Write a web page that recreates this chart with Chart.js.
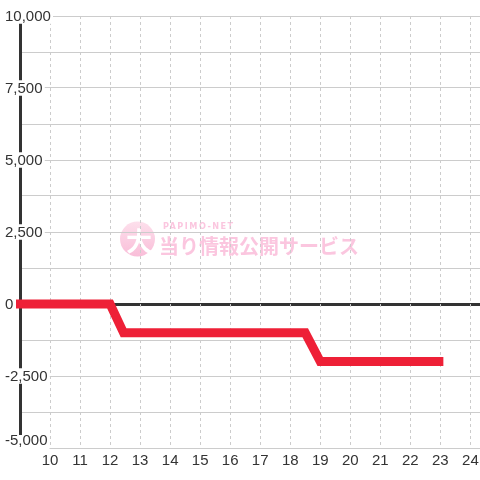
<!DOCTYPE html>
<html>
<head>
<meta charset="utf-8">
<script src="https://cdn.jsdelivr.net/npm/chart.js@4/dist/chart.umd.min.js"></script>
<style>
  html, body { margin: 0; padding: 0; background: #ffffff; }
  #wrap { width: 480px; height: 480px; }
</style>
</head>
<body>
<div id="wrap"><canvas id="c" width="480" height="480"></canvas></div>
<script>
// ---- data ----
const xValues = [8, 12, 12.45, 18.5, 19, 22.95];
const yValues = [0, 0, -1000, -1000, -2000, -2000];
const xTicks = [10, 11, 12, 13, 14, 15, 16, 17, 18, 19, 20, 21, 22, 23, 24];
const yTicks = [-5000, -3750, -2500, -1250, 0, 1250, 2500, 3750, 5000, 6250, 7500, 8750, 10000];
const yLabelStep = 2500;
const xMin = 9, xMax = 24.32;
const yMin = -5000, yMax = 10000;
const watermarkSmall = 'PAPIMO-NET';
const watermarkMain = '当り情報公開サービス';
const watermarkIcon = '大';

const FONT = "'Liberation Sans', Arial, sans-serif";
const fmt = v => v.toLocaleString('en-US');

const watermark = {
  id: 'watermark',
  beforeDraw(chart) {
    const ctx = chart.ctx;
    ctx.save();
    ctx.fillStyle = '#ffffff';
    ctx.fillRect(0, 0, chart.width, chart.height);
    const g = ctx.createLinearGradient(0, 221, 0, 257);
    g.addColorStop(0, '#fde0ec');
    g.addColorStop(1, '#f9bdd8');
    ctx.fillStyle = g;
    ctx.beginPath();
    ctx.arc(137.5, 239, 17.5, 0, Math.PI * 2);
    ctx.fill();
    ctx.fillStyle = '#ffffff';
    ctx.font = "bold 26px 'Noto Sans CJK JP'";
    ctx.textAlign = 'center';
    ctx.textBaseline = 'middle';
    ctx.fillText(watermarkIcon, 139, 241);
    ctx.fillStyle = '#fbc6df';
    ctx.textAlign = 'left';
    ctx.font = "bold 20px 'Noto Sans CJK JP'";
    ctx.fillText(watermarkMain, 159, 246);
    ctx.font = "bold 9px 'DejaVu Sans Condensed', 'Liberation Sans'";
    try { ctx.letterSpacing = '1.5px'; } catch (e) {}
    ctx.fillText(watermarkSmall, 163, 226.5);
    ctx.restore();
  }
};

const isY = (ctx, v) => ctx && ctx.tick && ctx.tick.value === v;
// y labels use a bottom baseline; normal labels are two lines (blank + text)
// so the text sits centred on the grid line, the lowest label is one line
// and so sits just above the bottom of the plot.
const LH = 17, LH_MIN = 48;

new Chart(document.getElementById('c'), {
  type: 'line',
  data: {
    datasets: [{
      data: xValues.map((x, i) => ({ x, y: yValues[i] })),
      borderColor: '#ee2037',
      borderWidth: 9,
      pointRadius: 0,
      pointHoverRadius: 0,
      tension: 0,
      fill: false,
      borderJoinStyle: 'miter',
      borderCapStyle: 'square',
      clip: { left: 4, top: 0, right: 0, bottom: 0 }
    }]
  },
  options: {
    responsive: false,
    animation: false,
    devicePixelRatio: 1,
    events: [],
    layout: { padding: { left: 5, top: 16, right: 0, bottom: 0 } },
    plugins: { legend: { display: false }, tooltip: { enabled: false } },
    scales: {
      y: {
        type: 'linear',
        min: yMin,
        max: yMax,
        afterBuildTicks: s => { s.ticks = yTicks.map(v => ({ value: v })); },
        afterFit: s => { s.width = 15; s.paddingLeft = 0; s.paddingRight = 0; s.paddingTop = 0; s.paddingBottom = 0; },
        ticks: {
          mirror: true,
          align: 'end',
          autoSkip: false,
          padding: -15,
          color: '#333333',
          font: ctx => ({ family: FONT, size: 15, lineHeight: (isY(ctx, yMin) ? LH_MIN : LH) + 'px' }),
          callback: v => (v % yLabelStep !== 0) ? '' : (v === yMin ? fmt(v) : ['', fmt(v)]),
          showLabelBackdrop: ctx => !!(ctx && ctx.tick && ctx.tick.value % yLabelStep === 0),
          backdropColor: '#ffffff',
          backdropPadding: { left: 2, right: 2, top: -35, bottom: 16 }
        },
        grid: {
          color: ctx => isY(ctx, 0) ? '#333333' : '#cccccc',
          lineWidth: ctx => isY(ctx, 0) ? 3 : 1,
          drawTicks: false
        },
        border: { display: true, color: '#333333', width: 3 }
      },
      x: {
        type: 'linear',
        min: xMin,
        max: xMax,
        afterBuildTicks: s => { s.ticks = xTicks.map(v => ({ value: v })); },
        afterFit: s => { s.height = 32; s.paddingLeft = 0; s.paddingRight = 0; s.paddingTop = 0; s.paddingBottom = 0; },
        ticks: {
          font: { family: FONT, size: 15 },
          color: '#333333',
          padding: 4,
          maxRotation: 0,
          autoSkip: false,
          callback: v => String(v)
        },
        grid: { color: '#cccccc', lineWidth: 1, drawTicks: false, borderDash: [3, 3] },
        border: { display: false, dash: [3, 3] }
      }
    }
  },
  plugins: [watermark]
});
</script>
</body>
</html>
